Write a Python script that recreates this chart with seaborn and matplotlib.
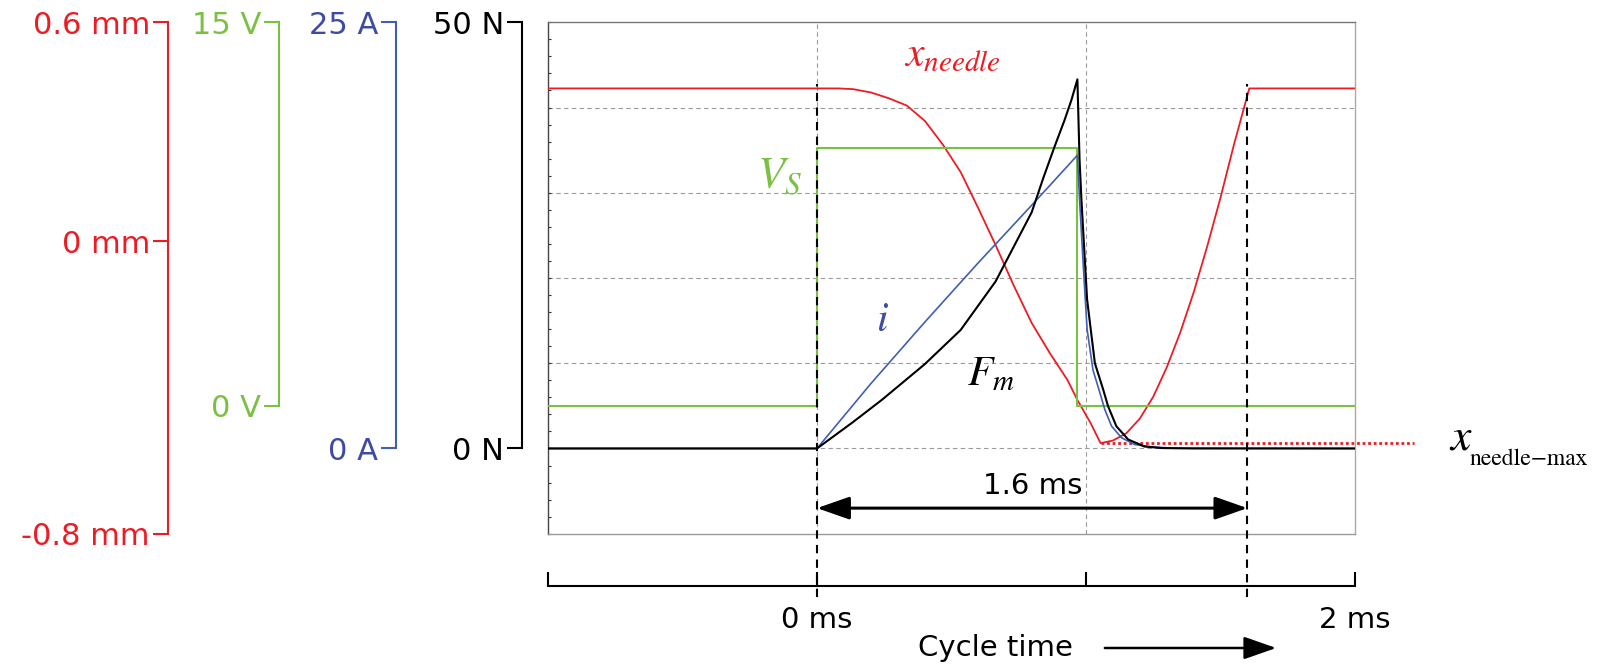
import matplotlib
matplotlib.use("Agg")
import matplotlib.pyplot as plt
import seaborn as sns
from matplotlib.ticker import MultipleLocator

plt.rcParams['font.family'] = ['DejaVu Sans']
plt.rcParams['mathtext.fontset'] = 'stix'

RED = '#ed1c24'
GREEN = '#7ac143'
BLUE = '#3d4ba0'
BLUE_LINE = '#3f5fb5'

## data, time in ms
# needle lift (mm)
t_needle = [-1.0, 0.08, 0.134, 0.2, 0.267, 0.334, 0.401, 0.468, 0.534, 0.597, 0.664, 0.731,
            0.798, 0.865, 0.931, 0.968, 1.017, 1.054, 1.10, 1.15, 1.20, 1.25, 1.30, 1.35,
            1.40, 1.45, 1.50, 1.55, 1.607, 2.0]
x_needle = [0.419, 0.419, 0.417, 0.408, 0.392, 0.372, 0.33, 0.265, 0.19, 0.095, -0.01, -0.12,
            -0.223, -0.305, -0.379, -0.434, -0.497, -0.552, -0.545, -0.525, -0.485, -0.425, -0.345, -0.25,
            -0.14, -0.015, 0.12, 0.265, 0.419, 0.419]

# supply voltage (V)
t_volt = [-1.0, 0.0, 0.0, 0.965, 0.965, 2.0]
v_supply = [0.0, 0.0, 10.1, 10.1, 0.0, 0.0]

# coil current (A)
t_curr = [-1.0, 0.0, 0.2, 0.4, 0.6, 0.8, 0.968, 0.976, 0.990, 1.004, 1.026, 1.051, 1.070,
          1.095, 1.132, 1.181, 1.243, 1.32, 2.0]
current = [0.0, 0.0, 3.8, 7.4, 10.9, 14.3, 17.2, 14.6, 10.7, 7.0, 4.6, 3.3, 2.28,
           1.31, 0.63, 0.23, 0.10, 0.02, 0.0]

# magnetic force (N)
t_force = [-1.0, 0.0, 0.134, 0.241, 0.401, 0.534, 0.664, 0.798, 0.842, 0.883, 0.920, 0.946,
           0.968, 0.976, 0.983, 1.004, 1.033, 1.064, 1.082, 1.113, 1.157, 1.217, 1.28, 1.4, 2.0]
force = [0.0, 0.0, 3.1, 5.7, 9.9, 13.9, 19.6, 27.7, 31.8, 35.4, 38.5, 40.9,
         43.3, 33.9, 29.2, 17.5, 10.0, 6.9, 4.96, 2.6, 1.05, 0.23, 0.05, 0.0, 0.0]

t_start = 0.0
t_open = 1.6

fig = plt.figure(figsize=(15.97, 6.67), dpi=100)
ax = fig.add_axes([548/1597, 133.3/667, 807/1597, 511.4/667])
ax.set_xlim(-1, 2)
ax.set_ylim(-10, 50)

# plot box + grid
for side, c in [('left', '#444444'), ('top', '#777777'), ('right', '#aaaaaa'), ('bottom', '#999999')]:
    ax.spines[side].set_color(c)
    ax.spines[side].set_linewidth(1.0)
ax.set_xticks([0, 1])
ax.set_yticks([0, 10, 20, 30, 40])
ax.yaxis.set_minor_locator(MultipleLocator(2))
ax.grid(True, color='#9a9a9a', linestyle=(0, (4, 3)), linewidth=0.8)
ax.tick_params(axis='x', length=0, labelbottom=False)
ax.tick_params(axis='y', which='both', direction='in', length=2.5, width=0.8,
               color='#333333', labelleft=False)


def scale_axis(ylim, ticks, labels, color, offset, line_color=None):
    a = ax.twinx()
    a.set_ylim(*ylim)
    for s in a.spines.values():
        s.set_visible(False)
    lc = line_color or color
    sp = a.spines['left']
    sp.set_visible(True)
    sp.set_position(('outward', offset))
    sp.set_bounds(min(ticks), max(ticks))
    sp.set_color(lc)
    sp.set_linewidth(1.5)
    a.yaxis.set_ticks_position('left')
    a.yaxis.set_label_position('left')
    a.set_yticks(ticks)
    a.set_yticklabels(labels)
    a.tick_params(axis='y', direction='out', length=10.5, width=1.5, color=lc,
                  labelcolor=color, labelsize=22, pad=2.5)
    for lab in a.get_yticklabels():
        lab.set_verticalalignment('center_baseline')
    return a


ax_mm = scale_axis((-0.8, 0.6), [-0.8, 0, 0.6], ['-0.8 mm', '0 mm', '0.6 mm'], RED, 273.6)
ax_v = scale_axis((-5, 15), [0, 15], ['0 V', '15 V'], GREEN, 193.7)
ax_a = scale_axis((-5, 25), [0, 25], ['0 A', '25 A'], BLUE, 109.4, BLUE_LINE)
ax_n = scale_axis((-10, 50), [0, 50], ['0 N', '50 N'], 'black', 18.7)

sns.lineplot(x=t_volt, y=v_supply, ax=ax_v, color=GREEN, linewidth=1.5,
             estimator=None, sort=False)
sns.lineplot(x=t_needle, y=x_needle, ax=ax_mm, color=RED, linewidth=1.3,
             estimator=None, sort=False)
sns.lineplot(x=t_force, y=force, ax=ax_n, color='black', linewidth=1.5,
             estimator=None, sort=False)
sns.lineplot(x=t_curr, y=current, ax=ax_a, color=BLUE_LINE, linewidth=1.2,
             estimator=None, sort=False)

# max needle lift marker
i_min = x_needle.index(min(x_needle))
ax_mm.plot([t_needle[i_min], 2.22], [x_needle[i_min], x_needle[i_min]], color=RED,
           linestyle=(0, (1, 1)), linewidth=2, clip_on=False)
ax.text(2.35, -0.1, r'$x$', fontsize=33, color='black', ha='left', va='baseline')
ax.annotate('needle\u2212max', xy=(2.35, -0.1), xytext=(15, -11), textcoords='offset points',
            fontsize=17, family='STIXGeneral', ha='left', va='baseline', annotation_clip=False)

# curve labels
ax.text(0.323, 46.3, r'$x_{needle}$', fontsize=30, color=RED, ha='left', va='center')
ax.text(-0.055, 32.0, r'$V_S$', fontsize=32, color=GREEN, ha='right', va='center')
ax.text(0.245, 15.2, r'$i$', fontsize=30, color=BLUE, ha='center', va='center')
ax.text(0.557, 8.8, r'$F_m$', fontsize=30, color='black', ha='left', va='center')

# time axis
tx = ax.twiny()
tx.set_xlim(-1, 2)
for s in tx.spines.values():
    s.set_visible(False)
tx.spines['bottom'].set_visible(True)
tx.spines['bottom'].set_position(('outward', 38))
tx.spines['bottom'].set_linewidth(1.5)
tx.xaxis.set_ticks_position('bottom')
tx.set_xticks([-1, 0, 1, 2])
tx.set_xticklabels(['', '0 ms', '', '2 ms'])
tx.tick_params(axis='x', direction='in', length=10, width=1.5, pad=14, labelsize=21)

for tt in [t_start, t_open]:
    tx.axvline(tt, ymin=-0.124, ymax=0.879, color='black', linewidth=1.5,
               dashes=(4, 3), clip_on=False)

# 1.6 ms span
ax.annotate('', xy=(t_open, -7.0), xytext=(t_start, -7.0),
            arrowprops=dict(arrowstyle='<|-|>,head_length=0.8,head_width=0.28',
                            mutation_scale=25, lw=2.2, color='black',
                            shrinkA=0, shrinkB=0))
ax.text((t_start + t_open) / 2, -4.4, f'{t_open - t_start:.1f} ms', fontsize=21,
        ha='center', va='center')

# cycle time arrow
ax.annotate('', xy=(1.707, -0.2235), xytext=(1.07, -0.2235),
            xycoords=('data', 'axes fraction'), textcoords=('data', 'axes fraction'),
            arrowprops=dict(arrowstyle='-|>,head_length=0.8,head_width=0.28',
                            mutation_scale=25, lw=1.8, color='black',
                            shrinkA=0, shrinkB=0))
ax.text(0.664, -0.2235, 'Cycle time', fontsize=21, ha='center', va='center',
        transform=ax.get_xaxis_transform())

for a in [ax, ax_mm, ax_v, ax_a, ax_n, tx]:
    a.set_xlabel('')
    a.set_ylabel('')

fig.savefig('out.png', dpi=100)
